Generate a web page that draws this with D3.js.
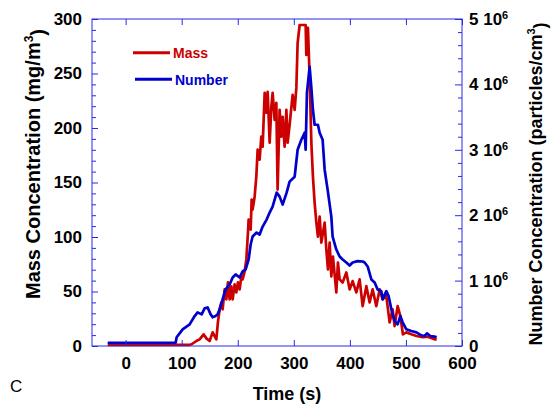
<!DOCTYPE html>
<html>
<head>
<meta charset="utf-8">
<script src="https://cdn.jsdelivr.net/npm/d3@7"></script>
<style>
  html, body { margin: 0; padding: 0; background: #fff; }
  svg { display: block; }
  text { font-family: "Liberation Sans", Arial, sans-serif; }
</style>
</head>
<body>
<svg id="chart" width="553" height="409"></svg>
<script>
// ---- Data ----
const timeMass = [-32, 114.2, 117.7, 126.1, 132.0, 139.1, 144.0, 149.8, 155.2, 161.8, 164.6, 167.7, 170.7, 173.0, 176.6, 179.6, 182.5, 185.5, 188.5, 190.9, 194.4, 197.5, 200.3, 203.4, 206.4, 208.7, 212.3, 215.3, 218.2, 219.4, 223.0, 224.8, 226.5, 230.1, 233.1, 235.5, 239.0, 242.0, 244.4, 248.0, 251.0, 253.3, 256.9, 259.9, 262.2, 265.8, 268.8, 271.1, 274.7, 277.7, 280.1, 283.6, 286.7, 289.0, 292.5, 297.9, 301.5, 304.5, 306.8, 310.4, 315.7, 321.1, 322.3, 323.8, 325.2, 328.2, 331.3, 334.1, 337.1, 340.2, 343.0, 346.1, 349.1, 355.0, 358.0, 360.9, 363.9, 366.9, 369.8, 375.8, 378.7, 381.7, 387.1, 393.7, 399.6, 404.9, 411.5, 417.4, 422.8, 429.4, 435.2, 440.6, 447.2, 453.1, 458.4, 465.0, 470.9, 476.3, 479.8, 485.2, 490.0, 494.6, 500.7, 509.6, 518.6, 529.8, 538.7, 551.2, 554.8];
const mass = [1.1, 1.1, 1.6, 4.6, 6.1, 10.7, 7.0, 4.6, 12.5, 6.1, 21.7, 33.6, 40.0, 33.6, 51.9, 42.8, 58.3, 42.8, 54.7, 42.8, 56.5, 49.2, 58.3, 51.9, 63.8, 61.1, 68.4, 79.4, 104.1, 116.0, 106.8, 134.3, 125.1, 137.0, 155.4, 180.1, 170.9, 192.0, 182.8, 232.3, 214.0, 233.2, 186.5, 219.4, 232.3, 207.5, 223.1, 143.5, 216.7, 192.0, 210.3, 182.8, 216.7, 186.5, 203.0, 230.4, 216.7, 236.8, 278.0, 294.5, 294.5, 294.5, 267.1, 291.8, 291.8, 246.9, 186.5, 155.4, 131.6, 113.2, 100.4, 118.7, 94.9, 113.2, 88.5, 70.2, 94.9, 63.8, 82.1, 49.2, 76.6, 61.1, 58.3, 67.5, 51.9, 59.5, 49.2, 61.1, 36.6, 54.9, 40.0, 51.9, 36.6, 51.9, 42.8, 45.8, 21.7, 33.6, 18.3, 36.6, 27.5, 10.7, 12.5, 10.7, 9.2, 8.0, 8.6, 6.1, 6.1];

const timeNumber = [-32, 89.2, 91.0, 101.7, 114.2, 123.1, 128.4, 135.6, 140.9, 146.3, 151.6, 155.2, 160.5, 164.1, 167.7, 173.0, 178.4, 185.5, 190.9, 196.2, 203.4, 208.7, 214.1, 219.4, 223.0, 226.5, 233.7, 239.0, 244.4, 251.5, 256.9, 262.2, 269.4, 274.7, 280.1, 287.2, 292.5, 301.5, 306.8, 313.4, 319.3, 321.1, 323.4, 328.2, 331.3, 334.1, 337.1, 343.0, 346.1, 351.4, 355.0, 360.3, 366.9, 369.2, 375.8, 381.7, 387.1, 393.7, 399.6, 404.9, 413.8, 422.8, 426.3, 431.7, 438.3, 444.2, 449.5, 456.1, 458.4, 465.0, 469.1, 474.0, 479.8, 485.2, 490.0, 494.1, 500.7, 509.6, 518.6, 527.5, 533.4, 537.5, 543.5, 551.2, 554.8];
// particles/cm^3, in units of 10^6
const number = [0.05, 0.05, 0.133, 0.255, 0.331, 0.458, 0.514, 0.484, 0.575, 0.59, 0.484, 0.438, 0.458, 0.484, 0.56, 0.713, 0.865, 0.941, 1.048, 1.094, 1.048, 1.14, 1.17, 1.323, 1.552, 1.674, 1.735, 1.704, 1.826, 1.933, 2.04, 2.132, 2.345, 2.284, 2.162, 2.345, 2.513, 2.589, 3.001, 3.154, 3.261, 3.001, 3.871, 4.268, 3.947, 3.612, 3.383, 3.383, 3.261, 3.154, 2.696, 2.391, 1.979, 1.674, 1.475, 1.369, 1.323, 1.277, 1.231, 1.277, 1.297, 1.292, 1.277, 1.216, 1.018, 0.972, 0.865, 0.839, 0.713, 0.839, 0.763, 0.56, 0.381, 0.331, 0.458, 0.362, 0.255, 0.229, 0.209, 0.163, 0.153, 0.194, 0.153, 0.143, 0.133];

const xTicks = [0, 100, 200, 300, 400, 500, 600];
const massTicks = [0, 50, 100, 150, 200, 250, 300];
const numberTicks = [0, 1, 2, 3, 4, 5];
const seriesNames = ["Mass", "Number"];

// ---- Layout ----
const L = 92, R = 462, T = 19, B = 346;
const axisColor = "#2a2ae6";
const red = "#cc0000", blue = "#0000cc";

const svg = d3.select("#chart");
const x = d3.scaleLinear().domain([-60, 600]).range([L, R]);
const yM = d3.scaleLinear().domain([0, 300]).range([B, T]);
const yN = d3.scaleLinear().domain([0, 5]).range([B, T]);

// Lines
const lineM = d3.line().x((d, i) => x(timeMass[i])).y(d => yM(d));
const lineN = d3.line().x((d, i) => x(timeNumber[i])).y(d => yN(d));

svg.append("path").datum(mass).attr("d", lineM)
  .attr("fill", "none").attr("stroke", red).attr("stroke-width", 2.7).attr("stroke-linejoin", "round");
svg.append("path").datum(number).attr("d", lineN)
  .attr("fill", "none").attr("stroke", blue).attr("stroke-width", 2.7).attr("stroke-linejoin", "round");

// Frame
svg.append("rect").attr("x", L).attr("y", T).attr("width", R - L).attr("height", B - T)
  .attr("fill", "none").attr("stroke", axisColor).attr("stroke-width", 1);

function styleAxis(g) {
  g.select(".domain").remove();
  g.selectAll("line").attr("stroke", axisColor);
  g.selectAll("text").attr("fill", "#000").attr("font-size", 17).attr("font-weight", "bold")
    .attr("font-family", '"Liberation Sans", Arial, sans-serif');
}

// Bottom axis
svg.append("g").attr("transform", `translate(0,${B})`)
  .call(d3.axisBottom(x).tickValues(xTicks).tickSize(-6).tickPadding(11).tickFormat(d3.format("d")))
  .call(styleAxis);
// Top axis (ticks only)
svg.append("g").attr("transform", `translate(0,${T})`)
  .call(d3.axisTop(x).tickValues(xTicks).tickSize(-6).tickFormat(""))
  .call(styleAxis);

// Left axis
svg.append("g").attr("transform", `translate(${L},0)`)
  .call(d3.axisLeft(yM).tickValues(d3.range(0, 301, 10).filter(v => v % 50 !== 0)).tickSize(-4).tickFormat(""))
  .call(styleAxis);
svg.append("g").attr("transform", `translate(${L},0)`)
  .call(d3.axisLeft(yM).tickValues(massTicks).tickSize(-6).tickPadding(10).tickFormat(d3.format("d")))
  .call(styleAxis);

// Right axis
svg.append("g").attr("transform", `translate(${R},0)`)
  .call(d3.axisRight(yN).tickValues(d3.range(0, 5.01, 0.2).filter(v => Math.abs(v - Math.round(v)) > 0.01)).tickSize(-4).tickFormat(""))
  .call(styleAxis);
const rAxis = svg.append("g").attr("transform", `translate(${R},0)`)
  .call(d3.axisRight(yN).tickValues(numberTicks).tickSize(-7).tickPadding(7).tickFormat(d => d))
  .call(styleAxis);
rAxis.selectAll(".tick text").each(function(d) {
  const t = d3.select(this);
  t.text(null);
  if (d === 0) { t.append("tspan").text("0"); return; }
  t.append("tspan").text(d + " 10");
  t.append("tspan").attr("font-size", 11).attr("dy", "-0.55em").text("6");
});

// Axis titles
svg.append("text").attr("x", 287).attr("y", 399.5).attr("text-anchor", "middle")
  .attr("font-size", 18).attr("font-weight", "bold").text("Time (s)");

const lt = svg.append("text").attr("transform", "translate(40,164) rotate(-90)")
  .attr("text-anchor", "middle").attr("font-size", 20).attr("font-weight", "bold");
lt.append("tspan").text("Mass Concentration (mg/m");
lt.append("tspan").attr("font-size", 12).attr("dy", "-0.6em").text("3");
lt.append("tspan").attr("dy", "0.6em").text(")");

const rt = svg.append("text").attr("transform", "translate(542,184) rotate(-90)")
  .attr("text-anchor", "middle").attr("font-size", 18).attr("font-weight", "bold");
rt.append("tspan").text("Number Concentration (particles/cm");
rt.append("tspan").attr("font-size", 11).attr("dy", "-0.6em").text("3");
rt.append("tspan").attr("dy", "0.6em").text(")");

// Panel letter
svg.append("text").attr("x", 10).attr("y", 392).attr("font-size", 17).text("C");

// Legend
const legend = [
  { name: seriesNames[0], color: red, y: 52.7, x1: 133, x2: 170, tx: 173 },
  { name: seriesNames[1], color: blue, y: 79.3, x1: 135, x2: 172, tx: 175 }
];
legend.forEach(l => {
  svg.append("line").attr("x1", l.x1).attr("x2", l.x2).attr("y1", l.y).attr("y2", l.y)
    .attr("stroke", l.color).attr("stroke-width", 3);
  svg.append("text").attr("x", l.tx).attr("y", l.y + 5.5).attr("font-size", 14)
    .attr("font-weight", "bold").attr("fill", l.color).text(l.name);
});
</script>
</body>
</html>
